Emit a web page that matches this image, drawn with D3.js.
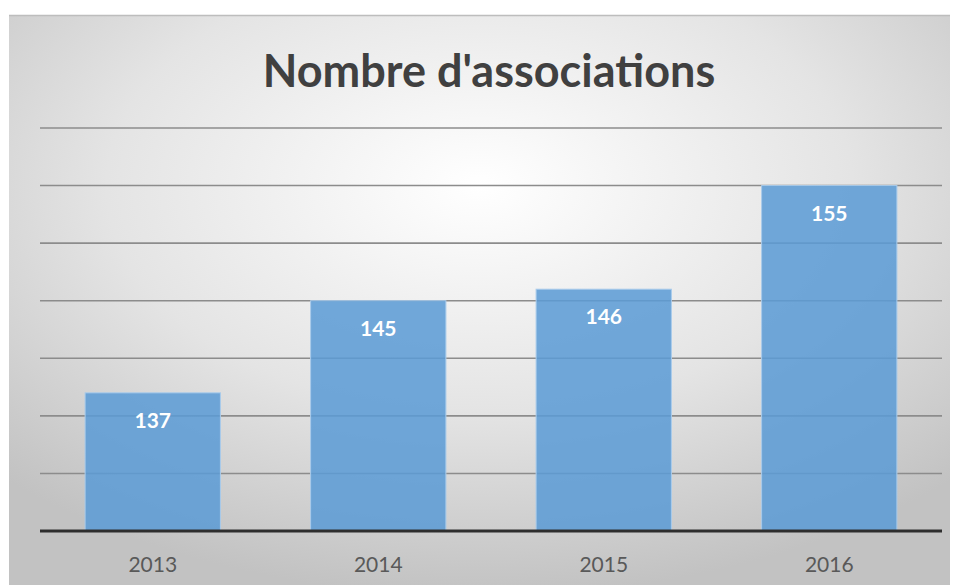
<!DOCTYPE html>
<html><head><meta charset="utf-8">
<script src="https://cdn.jsdelivr.net/npm/d3@7"></script>
<style>body{margin:0;background:#fff;}svg{display:block;}</style>
</head><body>
<script>
const title = "Nombre d'associations";
const categories = ["2013","2014","2015","2016"];
const values = [137,145,146,155];
const yTicks = [130,135,140,145,150,155,160];
const yDomain = [125,160];

const W = 958, H = 585;
const svg = d3.select("body").append("svg").attr("width",W).attr("height",H);
const defs = svg.append("defs");
const g = defs.append("radialGradient").attr("id","bg").attr("cx","50%").attr("cy","30%").attr("r","72%");
g.append("stop").attr("offset","0%").attr("stop-color","#ffffff");
g.append("stop").attr("offset","55%").attr("stop-color","#e4e4e4");
g.append("stop").attr("offset","100%").attr("stop-color","#c2c2c2");

svg.append("rect").attr("x",9).attr("y",15).attr("width",941).attr("height",570).attr("fill","url(#bg)");
svg.append("line").attr("x1",9).attr("x2",950).attr("y1",15.5).attr("y2",15.5).attr("stroke","#bdbdbd").attr("stroke-width",1.5);

const x = d3.scaleBand().domain(categories).range([40,942]).paddingInner(0.4).paddingOuter(0.2);
const y = d3.scaleLinear().domain(yDomain).range([531,128]);

svg.append("g").selectAll("line").data(yTicks).join("line")
  .attr("x1",40).attr("x2",942).attr("y1",d=>y(d)).attr("y2",d=>y(d))
  .attr("stroke","#8c8c8c").attr("stroke-width",1.6);

svg.append("g").selectAll("rect").data(values).join("rect")
  .attr("x",(d,i)=>x(categories[i])).attr("width",x.bandwidth())
  .attr("y",d=>y(d)).attr("height",d=>y(yDomain[0])-y(d))
  .attr("fill","#5b9bd5").attr("fill-opacity",0.86)
  .attr("stroke","#a9cbeb").attr("stroke-width",1);

const xAxis = svg.append("g").attr("transform","translate(0,531)")
  .call(d3.axisBottom(x).tickSize(0).tickPadding(26));
xAxis.select(".domain").attr("d","M40,0H942").attr("stroke","#2e2e2e").attr("stroke-width",3);
xAxis.selectAll("text").attr("font-family","Lato, 'Open Sans', sans-serif").attr("font-size",21).attr("fill","#595959");

svg.append("g").selectAll("text").data(values).join("text")
  .attr("x",(d,i)=>x(categories[i])+x.bandwidth()/2).attr("y",d=>y(d)+35)
  .attr("text-anchor","middle").attr("font-family","Lato, 'Open Sans', sans-serif")
  .attr("font-weight","bold").attr("font-size",21).attr("fill","#ffffff").text(d=>d);

svg.append("text").attr("x",489).attr("y",87).attr("text-anchor","middle")
  .attr("font-family","Lato, 'Open Sans', sans-serif").attr("font-weight","bold")
  .attr("font-size",45).attr("fill","#404040").text(title);
</script>
</body></html>
